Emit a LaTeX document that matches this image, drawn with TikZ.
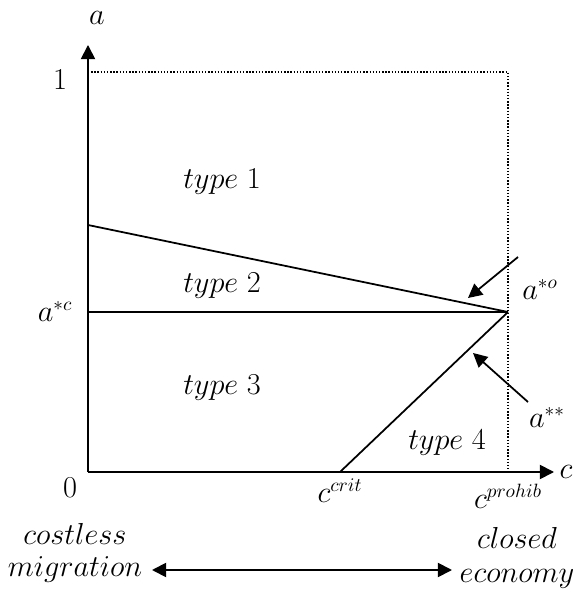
\documentclass[tikz,border=0pt]{standalone}
\usetikzlibrary{arrows.meta}

\begin{document}
\begin{tikzpicture}[font=\fontsize{16}{18}\selectfont,>={Triangle[length=8pt,width=8pt]},
    axis/.style={line width=1pt,->},
    guide/.style={densely dotted,thick},
    curve/.style={line width=1pt},
    pointer/.style={line width=1pt,->}]
  \useasboundingbox (-1.76,-2.36) rectangle (9.82,9.44);

  % axes
  \coordinate (O) at (0,0);
  \coordinate (xend) at (9.32,0);
  \coordinate (yend) at (0,8.54);
  \draw[axis] (O) -- (xend);
  \draw[axis] (O) -- (yend);
  \node (alab) at (0.18,9.08) {$a$};
  \node (clab) at (9.56,0) {$c$};
  \node (zero) at (-0.36,-0.32) {$0$};
  \node (one) at (-0.56,7.84) {$1$};

  % bounds
  \coordinate (top) at (0,8);
  \coordinate (corner) at (8.4,8);
  \coordinate (prohib) at (8.4,0);
  \draw[guide] (top) -- (corner) -- (prohib);

  % thresholds
  \coordinate (ac) at (0,3.2);
  \coordinate (meet) at (8.4,3.2);
  \coordinate (aleft) at (0,4.94);
  \coordinate (crit) at (5.04,0);
  \draw[curve] (ac) -- (meet);
  \draw[curve] (aleft) -- (meet);
  \draw[curve] (crit) -- (meet);
  \node (aclab) at (-0.66,3.2) {$a^{*c}$};
  \node (critlab) at (5.04,-0.38) {$c^{crit}$};
  \node (prohiblab) at (8.4,-0.48) {$c^{prohib}$};

  % regions
  \node (t1) at (2.68,5.8) {$type\ 1$};
  \node (t2) at (2.68,3.72) {$type\ 2$};
  \node (t3) at (2.68,1.68) {$type\ 3$};
  \node (t4) at (7.18,0.58) {$type\ 4$};

  % labels of the two curves
  \node (aolab) at (9.04,3.64) {$a^{*o}$};
  \node (asslab) at (9.18,1.08) {$a^{**}$};
  \coordinate (aofrom) at (8.6,4.3);
  \coordinate (aoto) at (7.6,3.48);
  \coordinate (assfrom) at (8.8,1.4);
  \coordinate (assto) at (7.7,2.38);
  \draw[pointer] (aofrom) -- (aoto);
  \draw[pointer] (assfrom) -- (assto);

  % migration costs
  \node[align=center] (costless) at (-0.26,-1.62) {$costless$\\$migration$};
  \node[align=center] (closed) at (8.58,-1.72) {$closed$\\[1pt]$economy$};
  \coordinate (lowend) at (1.28,-1.96);
  \coordinate (highend) at (7.28,-1.96);
  \draw[line width=1pt,<->] (lowend) -- (highend);
\end{tikzpicture}
\end{document}
